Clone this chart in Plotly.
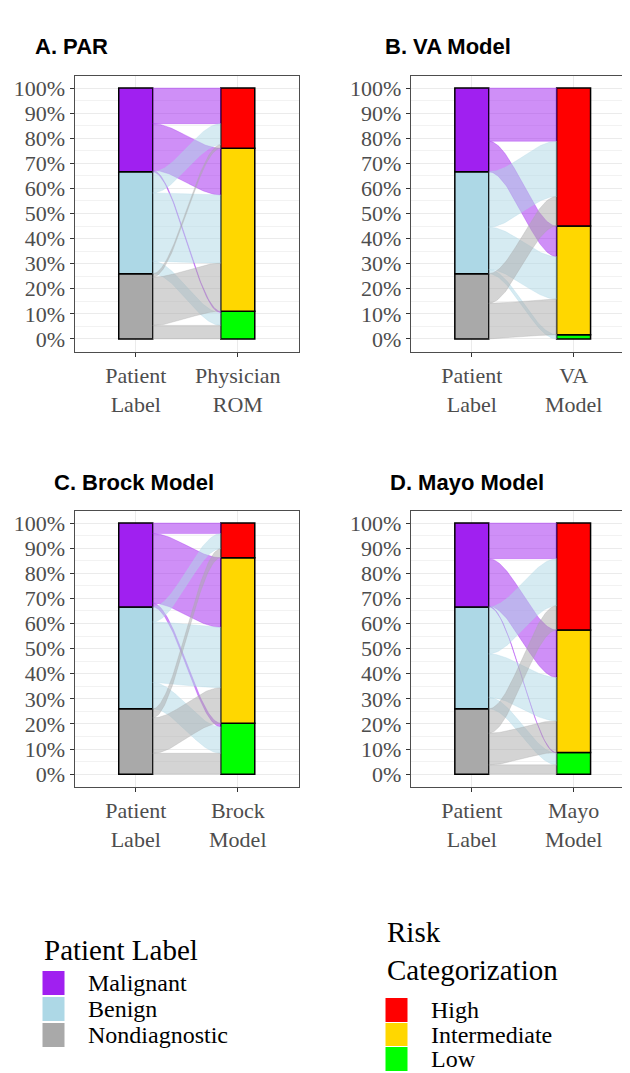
import numpy as np
import plotly.graph_objects as go

# ---------------- data (percent of patients) ----------------
patient_labels = ["Malignant", "Benign", "Nondiagnostic"]
risk_levels = ["High", "Intermediate", "Low"]

panel_titles = ["A. PAR", "B. VA Model", "C. Brock Model", "D. Mayo Model"]
axis_left_label = "Patient<br>Label"
axis_right_labels = ["Physician<br>ROM", "VA<br>Model", "Brock<br>Model", "Mayo<br>Model"]

# rows: Malignant, Benign, Nondiagnostic ; cols: High, Intermediate, Low
flows_par = [[14.2, 18.6, 0.6], [8.4, 27.2, 5.0], [1.4, 19.2, 5.4]]
flows_va = [[21.2, 12.2, 0.0], [22.0, 16.9, 1.7], [11.8, 14.2, 0.0]]
flows_brock = [[4.2, 27.7, 1.5], [6.0, 24.1, 10.5], [3.6, 14.1, 8.3]]
flows_mayo = [[14.2, 18.9, 0.3], [18.7, 17.3, 4.6], [9.7, 12.6, 3.7]]
all_flows = [flows_par, flows_va, flows_brock, flows_mayo]

y_tick_values = [i / 10 for i in range(11)]
y_tick_text = [f"{i * 10}%" for i in range(11)]

legend_titles = ["Patient Label", "Risk<br>Categorization"]

# ---------------- styling ----------------
patient_colors = {"Malignant": "#A020F0", "Benign": "#ADD8E6", "Nondiagnostic": "#A9A9A9"}
patient_flow_colors = {"Malignant": "rgba(160,32,240,0.5)", "Benign": "rgba(173,216,230,0.5)",
                       "Nondiagnostic": "rgba(169,169,169,0.5)"}
risk_colors = {"High": "#FF0000", "Intermediate": "#FFD700", "Low": "#00FF00"}

W, H = 630, 1073          # browser window
OFF = 8                   # default page margin around the plot div
FW, FH = W - OFF, H - OFF  # figure size so that it fills the window
BAR_W = 1 / 3
SERIF = "Liberation Serif"
SANS = "Liberation Sans"


def xp(px):
    return (px - OFF) / FW


def yp(py):
    return 1 - (py - OFF) / FH


# panel pixel geometry in window coords (left, right, top, bottom) and x range max
panels_px = [
    (74.5, 299.0, 75.5, 351.5, 2.6),
    (410.7, 630.0, 75.5, 351.5, 2.554),
    (74.5, 299.0, 510.5, 786.7, 2.6),
    (410.7, 630.0, 510.5, 786.7, 2.554),
]
title_pos = [(33, 47), (383, 47), (52, 482), (388, 482)]

fig = go.Figure()
layout_axes = {}


def sig(t):
    return 3 * t ** 2 - 2 * t ** 3


for p, flows in enumerate(all_flows):
    xa = "x" if p == 0 else f"x{p + 1}"
    ya = "y" if p == 0 else f"y{p + 1}"
    fl = np.array(flows) / 100.0
    left_order = [2, 1, 0]   # Nondiagnostic, Benign, Malignant bottom-up
    right_order = [2, 1, 0]  # Low, Intermediate, High bottom-up
    left_tot = fl.sum(axis=1)
    right_tot = fl.sum(axis=0)
    left_start, right_start = {}, {}
    acc = 0.0
    for i in left_order:
        left_start[i] = acc
        acc += left_tot[i]
    acc = 0.0
    for j in right_order:
        right_start[j] = acc
        acc += right_tot[j]
    lpos, rpos = {}, {}
    for i in left_order:
        a = left_start[i]
        for j in right_order:
            lpos[(i, j)] = (a, a + fl[i, j])
            a += fl[i, j]
    for j in right_order:
        a = right_start[j]
        for i in left_order:
            rpos[(i, j)] = (a, a + fl[i, j])
            a += fl[i, j]

    for i in left_order:
        name = patient_labels[i]
        fig.add_trace(go.Bar(x=[1], y=[left_tot[i]], base=[left_start[i]], width=BAR_W, name=name,
                             marker=dict(color=patient_colors[name], line=dict(color="black", width=1.5)),
                             showlegend=False, hoverinfo="skip", xaxis=xa, yaxis=ya))
    for j in right_order:
        name = risk_levels[j]
        fig.add_trace(go.Bar(x=[2], y=[right_tot[j]], base=[right_start[j]], width=BAR_W, name=name,
                             marker=dict(color=risk_colors[name], line=dict(color="black", width=1.5)),
                             showlegend=False, hoverinfo="skip", xaxis=xa, yaxis=ya))

    x0, x1 = 1 + BAR_W / 2, 2 - BAR_W / 2
    t = np.linspace(0, 1, 60)
    s = sig(t)
    xs = x0 + (x1 - x0) * t
    for i in [0, 1, 2]:
        for j in [0, 1, 2]:
            if fl[i, j] <= 0:
                continue
            lb, lt = lpos[(i, j)]
            rb, rt = rpos[(i, j)]
            top = lt + (rt - lt) * s
            bot = lb + (rb - lb) * s
            X = np.concatenate([xs, xs[::-1]])
            Y = np.concatenate([top, bot[::-1]])
            fig.add_trace(go.Scatter(x=X, y=Y, mode="lines", fill="toself",
                                     fillcolor=patient_flow_colors[patient_labels[i]],
                                     line=dict(width=0.6, color=patient_flow_colors[patient_labels[i]]),
                                     showlegend=False, hoverinfo="skip", xaxis=xa, yaxis=ya))

    l, r, tpx, bpx, xmax = panels_px[p]
    xkey = "xaxis" if p == 0 else f"xaxis{p + 1}"
    ykey = "yaxis" if p == 0 else f"yaxis{p + 1}"
    cut = p in (1, 3)
    layout_axes[xkey] = dict(
        domain=[xp(l), min(1.0, xp(r))], range=[0.4, xmax], anchor=ya,
        tickmode="array", tickvals=[1, 2], ticktext=[axis_left_label, axis_right_labels[p]],
        showgrid=True, gridcolor="#EBEBEB", gridwidth=1.1,
        showline=True, mirror=True, linecolor="#4D4D4D", linewidth=1,
        ticks="outside", ticklen=4, tickcolor="#333333", tickwidth=1,
        tickfont=dict(family=SERIF, size=22, color="#4D4D4D"),
        zeroline=False, fixedrange=True,
    )
    layout_axes[ykey] = dict(
        domain=[yp(bpx), yp(tpx)], range=[-0.05, 1.05], anchor=xa,
        tickmode="array", tickvals=y_tick_values, ticktext=y_tick_text,
        showgrid=True, gridcolor="#EBEBEB", gridwidth=1.1,
        minor=dict(tickmode="array", tickvals=[v + 0.05 for v in y_tick_values[:-1]],
                   showgrid=True, gridcolor="#F2F2F2", gridwidth=0.6, ticks=""),
        showline=True, mirror=(not cut), linecolor="#4D4D4D", linewidth=1,
        ticks="outside", ticklen=4, tickcolor="#333333", tickwidth=1,
        tickfont=dict(family=SERIF, size=22, color="#4D4D4D"),
        zeroline=False, fixedrange=True,
    )

annotations = []
shapes = []
for k, title in enumerate(panel_titles):
    tx, ty = title_pos[k]
    annotations.append(dict(text=title, x=xp(tx), y=yp(ty), xref="paper", yref="paper",
                            xanchor="left", yanchor="middle", showarrow=False,
                            font=dict(family=SANS, size=22, color="black", weight="bold")))

# legends (key swatches + labels)
legend_specs = [
    (legend_titles[0], patient_labels, patient_colors, 42, 950, [983, 1009, 1035]),
    (legend_titles[1], risk_levels, risk_colors, 385, 951, [1010, 1035, 1059]),
]
for ltitle, names, colors, lx, ty, item_y in legend_specs:
    annotations.append(dict(text=ltitle, x=xp(lx), y=yp(ty), xref="paper", yref="paper",
                            xanchor="left", yanchor="middle", align="left", showarrow=False,
                            font=dict(family=SERIF, size=29, color="black")))
    for name, cy in zip(names, item_y):
        shapes.append(dict(type="rect", xref="paper", yref="paper",
                           x0=xp(lx), x1=xp(lx + 23), y0=yp(cy + 12.5), y1=yp(cy - 12.5),
                           fillcolor=colors[name], line=dict(width=1, color="white"), layer="above"))
        annotations.append(dict(text=name, x=xp(lx + 44), y=yp(cy), xref="paper", yref="paper",
                                xanchor="left", yanchor="middle", showarrow=False,
                                font=dict(family=SERIF, size=24, color="black")))

fig.update_layout(
    width=FW, height=FH, margin=dict(l=0, r=0, t=0, b=0),
    paper_bgcolor="white", plot_bgcolor="white",
    barmode="overlay", showlegend=False,
    annotations=annotations, shapes=shapes,
    **layout_axes,
)

fig.write_html("out.html")
